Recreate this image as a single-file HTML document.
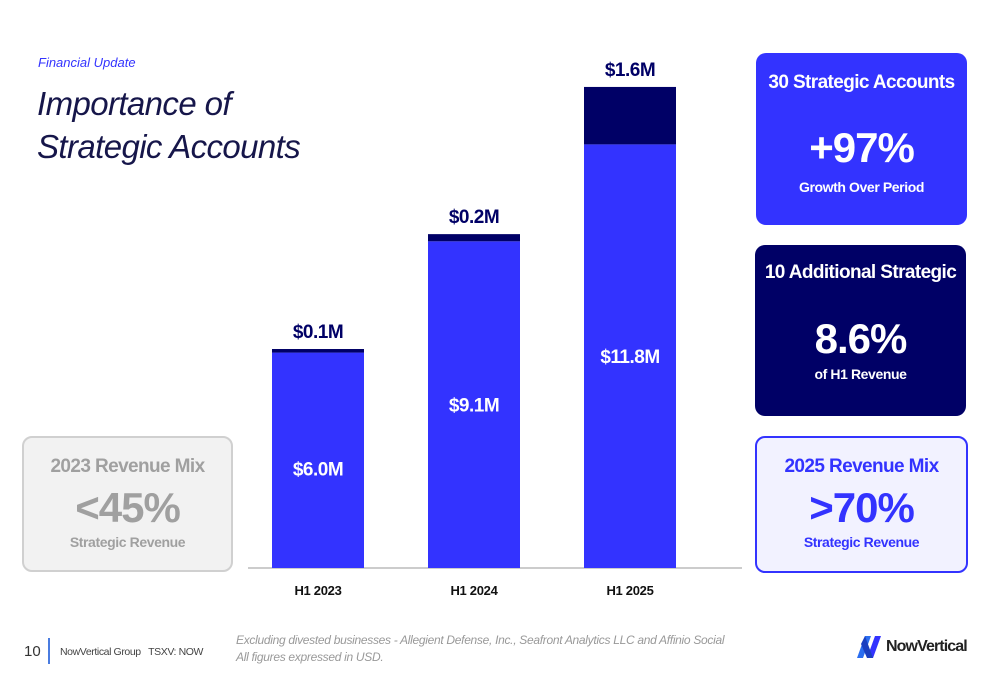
<!DOCTYPE html>
<html><head><meta charset="utf-8"><style>
body{margin:0;width:1000px;height:685px;background:#fff;position:relative;overflow:hidden;font-family:"Liberation Sans",sans-serif}
.abs{position:absolute}
.card{position:absolute;border-radius:10px;box-sizing:border-box;text-align:center}
.t{font-size:19px;font-weight:bold;letter-spacing:-0.6px;white-space:nowrap}
.n{font-size:42px;font-weight:bold;line-height:48px;letter-spacing:-1px}
.s{font-size:14px;font-weight:bold;letter-spacing:-0.4px}
</style></head><body>
<div class="abs" style="left:38px;top:55px;font-size:13px;font-style:italic;color:#3333ff">Financial Update</div>
<div class="abs" style="left:37px;top:82px;font-size:33px;line-height:43px;font-style:italic;color:#16164a;letter-spacing:-0.6px">Importance of<br>Strategic Accounts</div>

<svg class="abs" style="left:0;top:0" width="1000" height="685">
<g id="g"></g>
</svg>

<div class="card" style="left:22px;top:436px;width:211px;height:136px;background:#f2f2f2;border:2px solid #d0d0d0;color:#a0a0a0">
<div class="t" style="margin-top:18px">2023 Revenue Mix</div>
<div class="n" style="margin-top:6px">&lt;45%</div>
<div class="s" style="margin-top:2px">Strategic Revenue</div></div>

<div class="card" style="left:756px;top:53px;width:211px;height:172px;background:#3333ff;color:#fff">
<div class="t" style="margin-top:19px">30 Strategic Accounts</div>
<div class="n" style="margin-top:30px">+97%</div>
<div class="s" style="margin-top:7px">Growth Over Period</div></div>

<div class="card" style="left:755px;top:245px;width:211px;height:171px;background:#000066;color:#fff">
<div class="t" style="margin-top:17px">10 Additional Strategic</div>
<div class="n" style="margin-top:31px">8.6%</div>
<div class="s" style="margin-top:3px">of H1 Revenue</div></div>

<div class="card" style="left:755px;top:436px;width:213px;height:137px;background:#f2f2ff;border:2px solid #3333ff;color:#3333ff">
<div class="t" style="margin-top:18px">2025 Revenue Mix</div>
<div class="n" style="margin-top:6px">&gt;70%</div>
<div class="s" style="margin-top:2px">Strategic Revenue</div></div>

<div class="abs" style="left:24px;top:643px;font-size:15px;color:#333">10</div>
<div class="abs" style="left:48px;top:638px;width:2px;height:26px;background:#4a7ce0"></div>
<div class="abs" style="left:60px;top:646px;font-size:10.5px;color:#444;letter-spacing:-0.4px;white-space:nowrap">NowVertical Group &nbsp; TSXV: NOW</div>
<div class="abs" style="left:236px;top:632px;font-size:12px;font-style:italic;color:#999;line-height:17px;letter-spacing:-0.3px;white-space:nowrap">Excluding divested businesses - Allegient Defense, Inc., Seafront Analytics LLC and Affinio Social<br>All figures expressed in USD.</div>
<div class="abs" style="left:855px;top:634px;">
<svg width="28" height="26"><path d="M2 24 L10 2 L16 2 L8 24Z" fill="#2a6df0"/><path d="M12 24 L20 2 L26 2 L18 24Z" fill="#3333ff"/><path d="M10 2 L18 24 L12 24 L6 10Z" fill="#1a3fc0"/></svg>
<span style="position:absolute;left:31px;top:4px;font-size:16px;font-weight:bold;color:#222;white-space:nowrap;letter-spacing:-0.9px">NowVertical</span></div>

<script>
const categories=["H1 2023","H1 2024","H1 2025"];
const baseValues=[6.0,9.1,11.8];
const extraValues=[0.1,0.2,1.6];
const baseLabels=["$6.0M","$9.1M","$11.8M"];
const extraLabels=["$0.1M","$0.2M","$1.6M"];
const NS="http://www.w3.org/2000/svg";
const g=document.getElementById('g');
const y0=568,pxPer=35.9,x0=272,step=156,bw=92;
const y=v=>y0-v*pxPer;
const x=i=>x0+i*step;
function mk(t,a){const e=document.createElementNS(NS,t);for(const k in a)e.setAttribute(k,a[k]);g.appendChild(e);return e;}
const ax=mk('line',{x1:248,x2:742,y1:y0,y2:y0,stroke:'#bbb','stroke-width':1.5});


categories.forEach((c,i)=>{
 const b=baseValues[i],e=extraValues[i];
 const r1=mk('rect',{x:x(i),y:y(b),width:bw,height:y0-y(b),fill:'#3333ff'});
 
 
 const r2=mk('rect',{x:x(i),y:y(b+e),width:bw,height:y(b)-y(b+e),fill:'#000066'});
 
 
 const t1=mk('text',{x:x(i)+bw/2,y:(y(b)+y0)/2+7+(i===0?8:0),'text-anchor':'middle',fill:'#fff','font-size':19,'font-weight':'bold','letter-spacing':-0.5});
 t1.textContent=baseLabels[i];
 
 
 const t2=mk('text',{x:x(i)+bw/2,y:y(b+e)-11,'text-anchor':'middle',fill:'#000066','font-size':19,'font-weight':'bold','letter-spacing':-0.5});
 t2.textContent=extraLabels[i];
 
 
 const t3=mk('text',{x:x(i)+bw/2,y:595,'text-anchor':'middle',fill:'#111','font-size':13,'font-weight':'bold','letter-spacing':-0.3});
 t3.textContent=c;
 
 
});
</script>
</body></html>
